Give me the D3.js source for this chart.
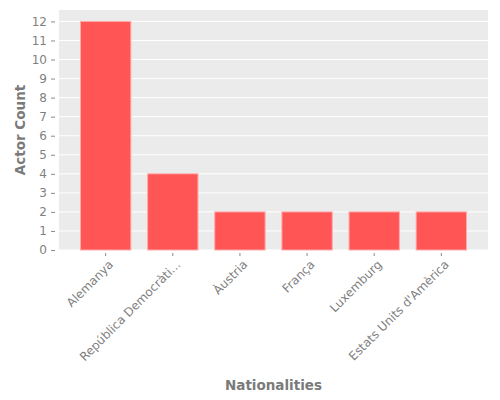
<!DOCTYPE html>
<html>
<head>
<meta charset="utf-8">
<script src="https://cdn.jsdelivr.net/npm/d3@7"></script>
<style>
  html, body { margin: 0; padding: 0; background: #fff; }
  svg { display: block; }
  svg text { font-family: "DejaVu Sans", sans-serif; }
  .tick text { fill: #7f7f7f; font-size: 12px; }
  .tick line { stroke: #8a8a8a; }
  .domain { display: none; }
  .axis-label { fill: #7a7a7a; font-size: 13.5px; font-weight: 600; }
</style>
</head>
<body>
<svg id="chart" width="500" height="400"></svg>
<script>
// ── Data ──
const nationalities = [
  "Alemanya",
  "República Democràti...",
  "Àustria",
  "França",
  "Luxemburg",
  "Estats Units d'Amèrica"
];
const actorCounts = [12, 4, 2, 2, 2, 2];
const yTicks = [0, 1, 2, 3, 4, 5, 6, 7, 8, 9, 10, 11, 12];

// ── Layout ──
const width = 500, height = 400;
const margin = { top: 10, right: 12, bottom: 150, left: 59 };
const plotW = width - margin.left - margin.right;
const plotH = height - margin.top - margin.bottom;

const svg = d3.select("#chart");
const g = svg.append("g")
  .attr("transform", `translate(${margin.left},${margin.top})`);

// ── Scales ──
const x = d3.scaleBand()
  .domain(nationalities)
  .range([0, plotW])
  .paddingInner(0.25)
  .paddingOuter(0.32);

const y = d3.scaleLinear()
  .domain([0, d3.max(actorCounts) * 1.05])
  .range([plotH, 0]);

// Plot background
g.append("rect")
  .attr("width", plotW)
  .attr("height", plotH)
  .attr("fill", "#ebebeb");

// Horizontal grid
g.selectAll(".grid")
  .data(yTicks)
  .join("line")
  .attr("class", "grid")
  .attr("x1", 0)
  .attr("x2", plotW)
  .attr("y1", d => y(d))
  .attr("y2", d => y(d))
  .attr("stroke", "#fff")
  .attr("stroke-width", 1);

// ── Bars ──
g.selectAll(".bar")
  .data(nationalities.map((n, i) => ({ name: n, value: actorCounts[i] })))
  .join("rect")
  .attr("class", "bar")
  .attr("x", d => x(d.name))
  .attr("width", x.bandwidth())
  .attr("y", d => y(d.value))
  .attr("height", d => y(0) - y(d.value))
  .attr("fill", "#ff5555")
  .attr("stroke", "#ffaaaa")
  .attr("stroke-width", 1);

// ── Axes (ticks sit a few px off the plot, behind the white spine) ──
g.append("g")
  .attr("transform", "translate(-4,0)")
  .call(d3.axisLeft(y).tickValues(yTicks).tickSize(4).tickPadding(4));

const xAxis = g.append("g")
  .attr("transform", `translate(0,${plotH + 3})`)
  .call(d3.axisBottom(x).tickSize(3).tickPadding(4));

// rotated labels, anchored at their top-right corner under the tick
xAxis.selectAll("text")
  .attr("x", 0)
  .attr("y", 0)
  .attr("dy", "0.75em")
  .attr("text-anchor", "end")
  .attr("transform", "translate(2,6) rotate(-45)");

// ── Axis labels ──
svg.append("text")
  .attr("class", "axis-label")
  .attr("text-anchor", "middle")
  .attr("x", margin.left + plotW / 2)
  .attr("y", 390)
  .text("Nationalities");

svg.append("text")
  .attr("class", "axis-label")
  .attr("text-anchor", "middle")
  .attr("transform", `translate(25,${margin.top + plotH / 2}) rotate(-90)`)
  .text("Actor Count");
</script>
</body>
</html>
